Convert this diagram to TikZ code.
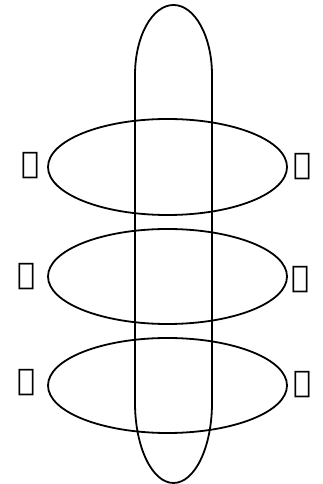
\documentclass[tikz,border=0pt]{standalone}
\usepackage{fontspec}
\newfontfamily\phfont{DejaVu Sans}
\begin{document}
\begin{tikzpicture}[x=1pt,y=1pt,
  ring/.style={draw=black,line width=1.8pt},
  glyph/.style={font=\phfont\fontsize{30}{30}\selectfont,inner sep=0pt}]
\useasboundingbox (0,0) rectangle (323,484);
% vertical elongated loop
\draw[ring] (135,81) -- (135,409) arc[start angle=180,end angle=0,x radius=38.5,y radius=70]
  -- (212,81) arc[start angle=0,end angle=-180,x radius=38.5,y radius=80] -- cycle;
% horizontal rings
\draw[ring] (167.5,317) ellipse[x radius=119.5,y radius=48];
\draw[ring] (167.5,207.5) ellipse[x radius=119.5,y radius=47.5];
\draw[ring] (167.5,98.5) ellipse[x radius=119.5,y radius=47.5];
\node[glyph] (l1) at (31,318) {𐤔};
\node[glyph] (r1) at (302,317) {𐤎};
\node[glyph] (l2) at (27,207) {𐤊};
\node[glyph] (r2) at (300,204) {𐤇};
\node[glyph] (l3) at (27,101) {𐤆};
\node[glyph] (r3) at (302,99) {𐤃};
\end{tikzpicture}
\end{document}
